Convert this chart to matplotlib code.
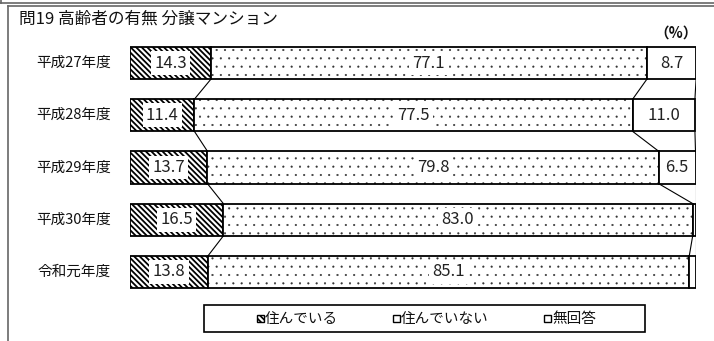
import matplotlib
matplotlib.use("Agg")
import matplotlib.pyplot as plt
from matplotlib.patches import Rectangle
from matplotlib.lines import Line2D
import numpy as np

plt.rcParams['font.family'] = ['Noto Sans CJK JP', 'DejaVu Sans']

title = "問19 高齢者の有無 分譲マンション"
years = ["平成27年度", "平成28年度", "平成29年度", "平成30年度", "令和元年度"]
series_names = ["住んでいる", "住んでいない", "無回答"]
living = [14.3, 11.4, 13.7, 16.5, 13.8]
not_living = [77.1, 77.5, 79.8, 83.0, 85.1]
no_answer = [8.7, 11.0, 6.5, 0.5, 1.1]
show_label = [[True, True, True], [True, True, True], [True, True, True],
              [True, True, False], [True, True, False]]

BS = chr(92)  # backslash for hatch
W, H = 714, 341
fig = plt.figure(figsize=(W / 100, H / 100), dpi=100)


def px(x0, y0, x1, y1):
    # pixel box (top-left origin) -> figure fraction [left, bottom, width, height]
    return [x0 / W, 1 - y1 / H, (x1 - x0) / W, (y1 - y0) / H]


ax = fig.add_axes(px(130, 36.9, 695.5, 298.1))
ax.set_xlim(0, 100)
ax.set_ylim(4.5, -0.5)
ax.axis("off")

h = 0.62
y = np.arange(len(years))
data = [living, not_living, no_answer]
left = np.zeros(len(years))
for k, vals in enumerate(data):
    vals = np.array(vals)
    if k == 0:
        with plt.rc_context({"hatch.linewidth": 1.3}):
            bars = ax.barh(y, vals, left=left, height=h, color="white",
                           edgecolor="black", hatch=BS * 6, linewidth=0)
            for b in bars:
                if hasattr(b, "set_hatch_linewidth"):
                    b.set_hatch_linewidth(1.3)
    elif k == 1:
        with plt.rc_context({"hatch.linewidth": 0.3}):
            bars = ax.barh(y, vals, left=left, height=h, color="white",
                           edgecolor="#333333", hatch="..", linewidth=0)
            for b in bars:
                if hasattr(b, "set_hatch_linewidth"):
                    b.set_hatch_linewidth(0.3)
    else:
        ax.barh(y, vals, left=left, height=h, color="white", linewidth=0)
    ax.barh(y, vals, left=left, height=h, fill=False, edgecolor="black", linewidth=1.3)
    for i in range(len(years)):
        if show_label[i][k]:
            cx = left[i] + vals[i] / 2
            ax.text(cx, y[i], f"{vals[i]:.1f}", ha="center", va="center", fontsize=12,
                    color="#222222",
                    bbox=dict(boxstyle="square,pad=0.2", fc="white", ec="none"))
    left = left + vals

# connector lines between bars
cum = np.cumsum(np.array(data), axis=0)
for i in range(len(years) - 1):
    for k in range(3):
        ax.plot([cum[k][i], cum[k][i + 1]], [y[i] + h / 2, y[i + 1] - h / 2],
                color="black", linewidth=0.8, solid_capstyle="butt")

for i, lab in enumerate(years):
    ax.text(-3.4, y[i], lab, ha="right", va="center", fontsize=10.5, color="#111111")

# title and unit
fig.text(19 / W, 1 - 19 / H, title, ha="left", va="center", fontsize=12, color="#111111")
fig.text(676 / W, 1 - 33 / H, "（%）", ha="center", va="center", fontsize=10.5,
         fontweight="bold", color="#111111")

# outer frame lines
fig.add_artist(Line2D([0, 1], [1 - 2.5 / H] * 2, transform=fig.transFigure, color="#666666", lw=1.2))
fig.add_artist(Line2D([7.5 / W, 1], [1 - 6 / H] * 2, transform=fig.transFigure, color="#666666", lw=1.2))
fig.add_artist(Line2D([7.5 / W] * 2, [0, 1 - 6 / H], transform=fig.transFigure, color="#666666", lw=1.2))
fig.add_artist(Line2D([1 / W] * 2, [1 - 2.5 / H, 1], transform=fig.transFigure, color="#666666", lw=1.2))

# legend box
fig.add_artist(Rectangle((204 / W, 1 - 332 / H), (645 - 204) / W, (332 - 305) / H,
                         transform=fig.transFigure, fill=False, edgecolor="black", lw=1.2))
leg_x = [257, 393, 544]
hatches = [BS * 6, None, None]
for j, name in enumerate(series_names):
    with plt.rc_context({"hatch.linewidth": 1.2}):
        fig.add_artist(Rectangle((leg_x[j] / W, 1 - 321.5 / H), 6.5 / W, 6.5 / H,
                                 transform=fig.transFigure, facecolor="white",
                                 edgecolor="black", lw=1.0, hatch=hatches[j]))
    fig.text((leg_x[j] + 8) / W, 1 - 318.5 / H, name, ha="left", va="center",
             fontsize=10.5, color="#111111")

fig.savefig("out.png", dpi=100)
